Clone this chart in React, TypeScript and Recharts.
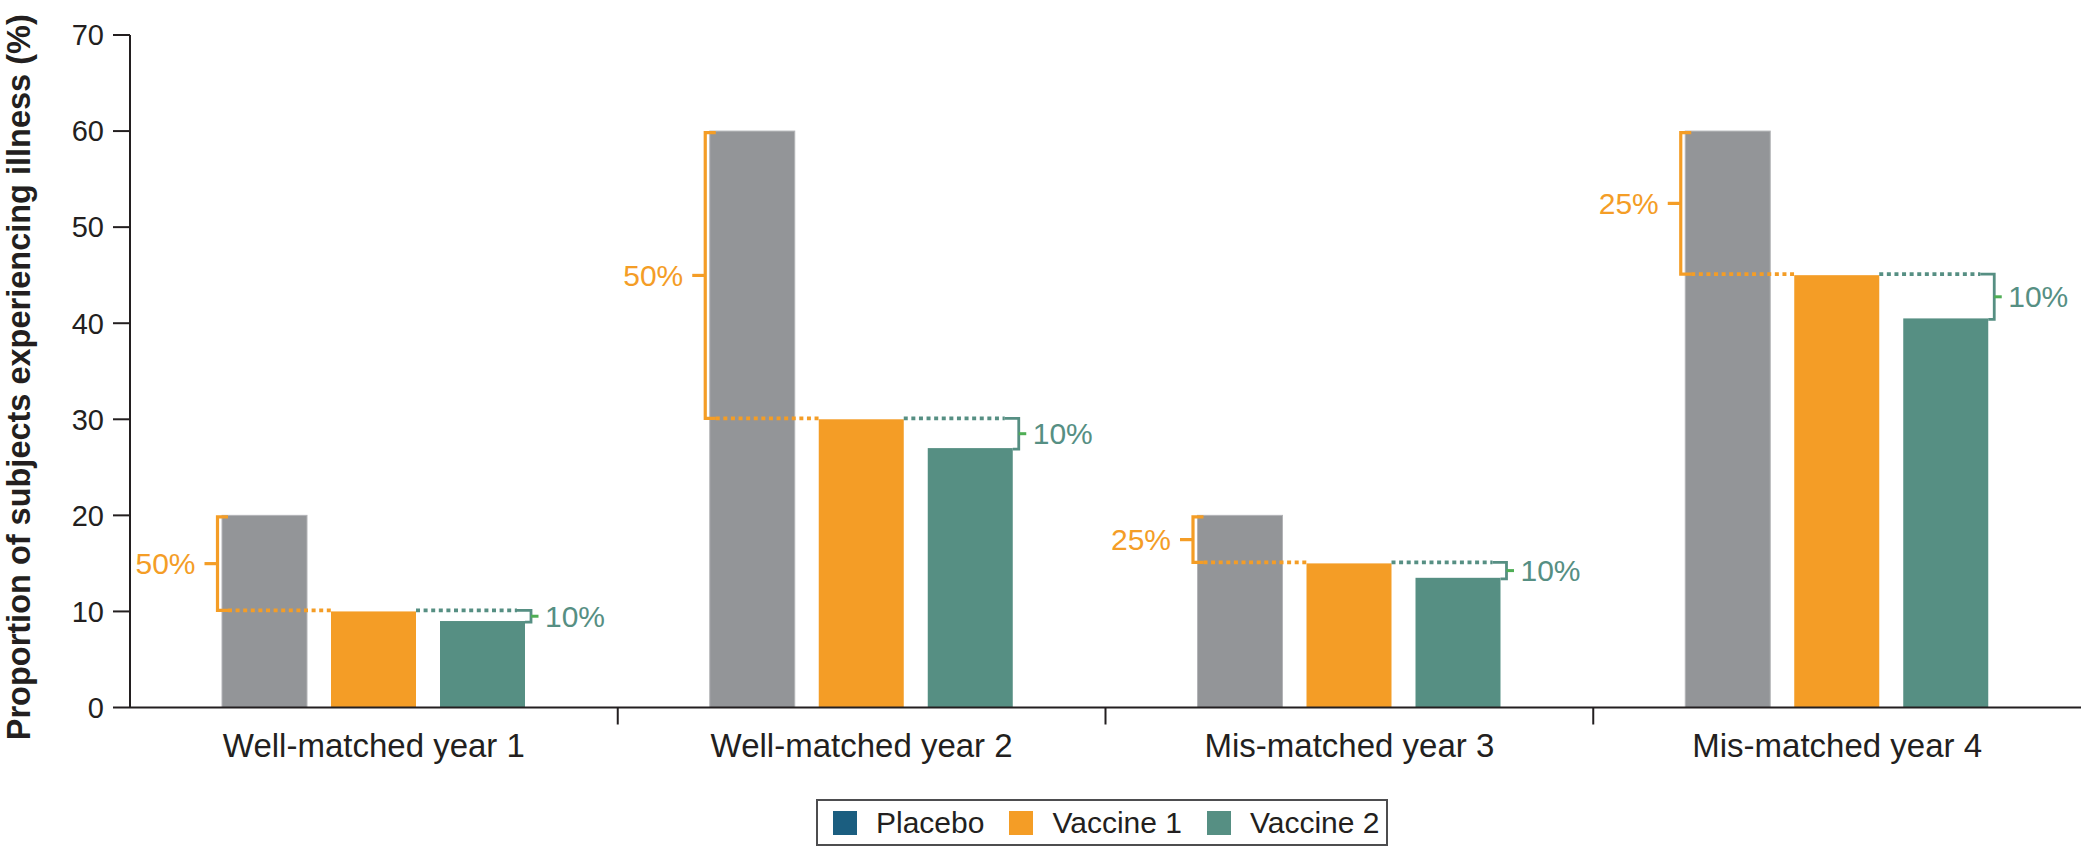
import React from 'react';
import { BarChart, Bar, XAxis, YAxis } from 'recharts';

// ---- data ----
const categories = ['Well-matched year 1', 'Well-matched year 2', 'Mis-matched year 3', 'Mis-matched year 4'];
const placebo = [20, 60, 20, 60];
const vaccine1 = [10, 30, 15, 45];
const vaccine2 = [9, 27, 13.5, 40.5];
// relative reductions shown beside the brackets
const reductionVsPlacebo = ['50%', '50%', '25%', '25%'];
const reductionVsVaccine1 = ['10%', '10%', '10%', '10%'];
const yTicks = [0, 10, 20, 30, 40, 50, 60, 70];
const seriesNames = ['Placebo', 'Vaccine 1', 'Vaccine 2'];
const legendColors = ['#1b5e80', '#f49d26', '#568f83'];
const yTitle = 'Proportion of subjects experiencing illness (%)';

const data = categories.map((name, i) => ({
  name,
  i,
  placebo: placebo[i],
  vaccine1: vaccine1[i],
  vaccine2: vaccine2[i],
}));

// ---- styles ----
const FONT = '"Liberation Sans", Arial, Helvetica, sans-serif';
const INK = '#231f20';
const GRAY = '#939598';
const ORANGE = '#f49d26';
const TEAL = '#568f83';
const GREEN_TICK = '#4fae55';
const BAR_SIZE = 85;
const BAR_GAP = 24;
const TICK_MARGIN = 26;
const DOTS = '4 3.6';
const DOT_WIDTH = 3.8;

function PlaceboShape(props: any) {
  const { x, y, width, height, payload } = props;
  const bottom = y + height;
  const ppu = height / payload.placebo;
  const yV1 = bottom - payload.vaccine1 * ppu - 1;
  const bx = x - 4.5;
  const top = y + 1.5;
  const mid = (top + yV1) / 2;
  const orangeLeft = x + width + BAR_GAP;
  return (
    <g>
      <rect x={x} y={y} width={width} height={height} fill={GRAY} stroke="#b3b4b7" strokeWidth={1} />
      <line x1={x + 6} x2={orangeLeft} y1={yV1} y2={yV1} stroke={ORANGE} strokeWidth={DOT_WIDTH} strokeDasharray={DOTS} />
      <path d={`M${x + 6},${top} H${bx} V${yV1} H${x + 6}`} stroke={ORANGE} strokeWidth={3.2} fill="none" />
      <line x1={bx - 13} x2={bx} y1={mid} y2={mid} stroke={ORANGE} strokeWidth={3.2} />
      <text
        x={bx - 22}
        y={mid}
        textAnchor="end"
        dominantBaseline="central"
        fill={ORANGE}
        fontSize={30}
        fontFamily={FONT}
      >
        {reductionVsPlacebo[payload.i]}
      </text>
    </g>
  );
}

function Vaccine1Shape(props: any) {
  const { x, y, width, height } = props;
  return <rect x={x} y={y} width={width} height={height} fill={ORANGE} />;
}

function Vaccine2Shape(props: any) {
  const { x, y, width, height, payload } = props;
  const bottom = y + height;
  const ppu = height / payload.vaccine2;
  const yV1 = bottom - payload.vaccine1 * ppu - 1;
  const right = x + width;
  const bx = right + 6;
  const low = y + 1;
  const mid = (yV1 + low) / 2;
  return (
    <g>
      <rect x={x} y={y} width={width} height={height} fill={TEAL} />
      <line x1={x - BAR_GAP} x2={right - 8} y1={yV1} y2={yV1} stroke={TEAL} strokeWidth={DOT_WIDTH} strokeDasharray={DOTS} />
      <path d={`M${right - 8},${yV1} H${bx} V${low} H${right}`} stroke={TEAL} strokeWidth={2.8} fill="none" />
      <line x1={bx} x2={bx + 7.5} y1={mid} y2={mid} stroke={GREEN_TICK} strokeWidth={3} />
      <text x={bx + 14} y={mid} dominantBaseline="central" fill={TEAL} fontSize={30} fontFamily={FONT}>
        {reductionVsVaccine1[payload.i]}
      </text>
    </g>
  );
}

function CategoryTick(props: any) {
  const { x, y, payload, index } = props;
  const half = payload && typeof payload.offset === 'number' ? payload.offset : 0;
  const axisY = y - TICK_MARGIN;
  return (
    <g>
      <text x={x} y={y} dy="0.71em" textAnchor="middle" fill={INK} fontSize={33} fontFamily={FONT}>
        {payload.value}
      </text>
      {index > 0 && half > 0 && (
        <line x1={x - half} x2={x - half} y1={axisY} y2={axisY + 17} stroke={INK} strokeWidth={2} />
      )}
    </g>
  );
}

function YTitle(props: any) {
  const vb = props.viewBox || { x: 0, y: 0, width: 0, height: 0 };
  const cy = vb.y + vb.height / 2 + 6;
  const cx = 30;
  return (
    <text
      x={cx}
      y={cy}
      transform={`rotate(-90, ${cx}, ${cy})`}
      textAnchor="middle"
      fill={INK}
      fontSize={32.5}
      fontWeight="bold"
      fontFamily={FONT}
    >
      {yTitle}
    </text>
  );
}

function LegendBox() {
  return (
    <div
      style={{
        position: 'absolute',
        left: 816,
        top: 799,
        height: 43,
        border: '2px solid #4d4d4f',
        display: 'flex',
        alignItems: 'center',
        padding: '0 7px 0 15px',
        fontFamily: FONT,
        fontSize: 30,
        color: INK,
        background: '#fff',
      }}
    >
      {seriesNames.map((name, i) => (
        <div key={name} style={{ display: 'flex', alignItems: 'center', marginLeft: i === 0 ? 0 : 25 }}>
          <div style={{ width: 24, height: 24, background: legendColors[i], marginRight: 19 }} />
          <span style={{ lineHeight: '30px' }}>{name}</span>
        </div>
      ))}
    </div>
  );
}

export default function App() {
  return (
    <div
      style={{
        position: 'absolute',
        left: 0,
        top: 0,
        width: 2084,
        height: 850,
        background: '#ffffff',
        fontFamily: FONT,
      }}
    >
      <BarChart
        width={2084}
        height={850}
        data={data}
        margin={{ top: 35, right: 3, left: 0, bottom: 82.5 }}
        barSize={BAR_SIZE}
        barGap={BAR_GAP}
      >
        <XAxis
          dataKey="name"
          height={60}
          axisLine={{ stroke: INK, strokeWidth: 2 }}
          tickLine={false}
          tickSize={0}
          tickMargin={TICK_MARGIN}
          tick={<CategoryTick />}
          interval={0}
        />
        <YAxis
          width={130}
          domain={[0, 70]}
          ticks={yTicks}
          interval={0}
          axisLine={{ stroke: INK, strokeWidth: 2 }}
          tickLine={{ stroke: INK, strokeWidth: 2 }}
          tickSize={17}
          tickMargin={9}
          tick={{ fill: INK, fontSize: 29, fontFamily: FONT }}
          label={<YTitle />}
        />
        <Bar dataKey="placebo" name={seriesNames[0]} fill={GRAY} shape={<PlaceboShape />} isAnimationActive={false} />
        <Bar dataKey="vaccine1" name={seriesNames[1]} fill={ORANGE} shape={<Vaccine1Shape />} isAnimationActive={false} />
        <Bar dataKey="vaccine2" name={seriesNames[2]} fill={TEAL} shape={<Vaccine2Shape />} isAnimationActive={false} />
      </BarChart>
      <LegendBox />
    </div>
  );
}
